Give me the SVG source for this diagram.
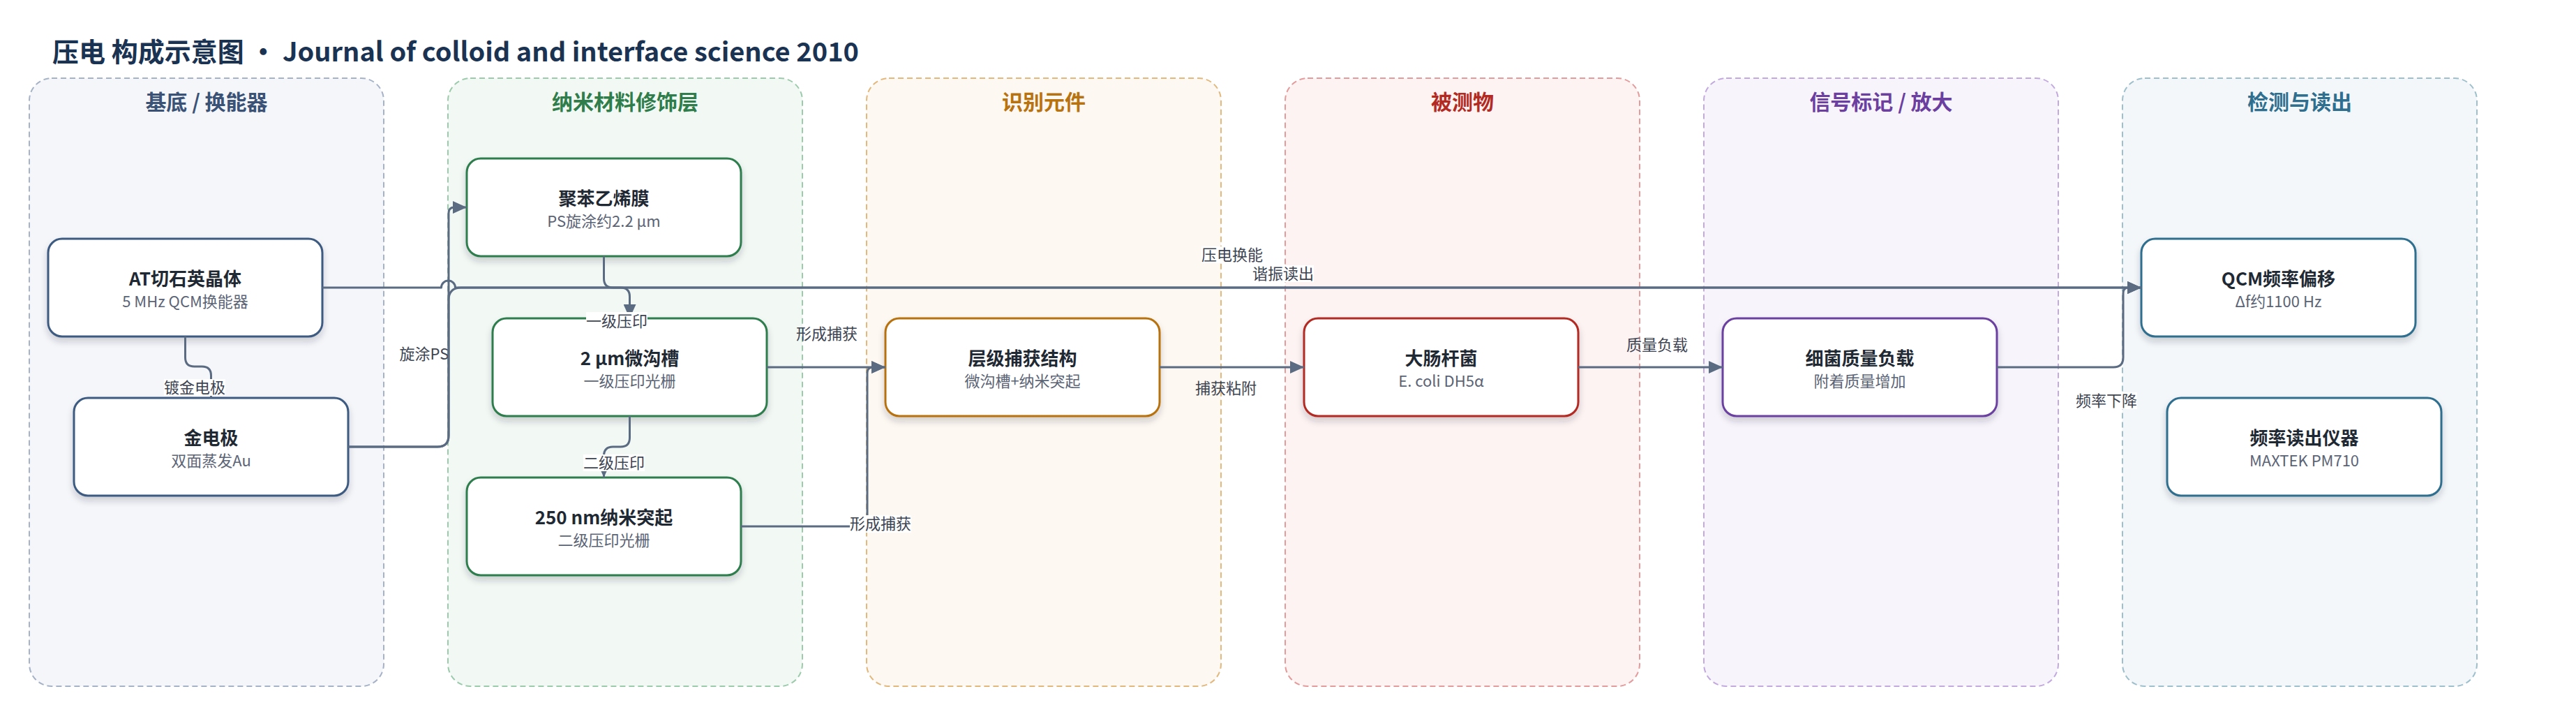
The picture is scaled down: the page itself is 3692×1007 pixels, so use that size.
<svg xmlns="http://www.w3.org/2000/svg" width="3692" height="1007" viewBox="0 0 3692 1007">
<style>
text{font-family:"Noto Sans CJK SC","Noto Sans",sans-serif}
.title{font-size:38px;font-weight:700;fill:#1b3352}
.lt{font-size:30px;font-weight:700;text-anchor:middle}
.lane{stroke-width:2;stroke-dasharray:8 5}
.node{fill:#fff;stroke-width:3;filter:url(#sh)}
.nt{font-size:26px;font-weight:700;fill:#1f2933;text-anchor:middle}
.ns{font-size:22px;fill:#5b6475;text-anchor:middle}
.e{fill:none;stroke:#5a6b82;stroke-width:3;stroke-linejoin:round}
.ea{marker-end:url(#arr)}
.lb{fill:#fff}
.el{font-size:22px;fill:#3d4452;text-anchor:middle}
</style>
<defs>
<filter id="sh" x="-10%" y="-20%" width="120%" height="150%">
<feDropShadow dx="0" dy="6" stdDeviation="5" flood-color="#1f2937" flood-opacity="0.2"/>
</filter>
<marker id="arr" viewBox="0 0 20 18" refX="20" refY="9" markerWidth="20" markerHeight="18" markerUnits="userSpaceOnUse" orient="auto">
<path d="M0 0 L20 9 L0 18 z" fill="#5a6b82"/>
</marker>
</defs>
<rect width="3692" height="1007" fill="#fff"/>
<text class="title" x="75" y="88">压电 构成示意图 · Journal of colloid and interface science 2010</text>

<g id="lanes">
<g id="lane-substrate">
<rect class="lane" x="42" y="112" width="508" height="871" rx="32" fill="#f5f6fa" stroke="#a6b3c6"/>
<text class="lt" x="296" y="157" fill="#3a5275">基底 / 换能器</text>
</g>
<g id="lane-nano">
<rect class="lane" x="642" y="112" width="508" height="871" rx="32" fill="#f2f8f4" stroke="#9ccbac"/>
<text class="lt" x="896" y="157" fill="#2e7d4a">纳米材料修饰层</text>
</g>
<g id="lane-recog">
<rect class="lane" x="1242" y="112" width="508" height="871" rx="32" fill="#fdf8f1" stroke="#e2b87c"/>
<text class="lt" x="1496" y="157" fill="#b8720f">识别元件</text>
</g>
<g id="lane-analyte">
<rect class="lane" x="1842" y="112" width="508" height="871" rx="32" fill="#fdf3f2" stroke="#e39b9b"/>
<text class="lt" x="2096" y="157" fill="#b22a22">被测物</text>
</g>
<g id="lane-signal">
<rect class="lane" x="2442" y="112" width="508" height="871" rx="32" fill="#f7f4fb" stroke="#c3aade"/>
<text class="lt" x="2696" y="157" fill="#6b3fa0">信号标记 / 放大</text>
</g>
<g id="lane-detect">
<rect class="lane" x="3042" y="112" width="508" height="871" rx="32" fill="#f3f7f9" stroke="#9ebfcc"/>
<text class="lt" x="3296" y="157" fill="#2e6e8e">检测与读出</text>
</g>
</g>

<g id="nodes">
<g id="n-at"><rect class="node" x="69" y="342" width="393" height="140" rx="20" stroke="#3d5a80"/><text class="nt" x="265.5" y="409">AT切石英晶体</text><text class="ns" x="265.5" y="440">5 MHz QCM换能器</text></g>
<g id="n-au"><rect class="node" x="106" y="570" width="393" height="140" rx="20" stroke="#3d5a80"/><text class="nt" x="302.5" y="637">金电极</text><text class="ns" x="302.5" y="668">双面蒸发Au</text></g>
<g id="n-ps"><rect class="node" x="669" y="227" width="393" height="140" rx="20" stroke="#2e7d4e"/><text class="nt" x="865.5" y="294">聚苯乙烯膜</text><text class="ns" x="865.5" y="325">PS旋涂约2.2 µm</text></g>
<g id="n-mg"><rect class="node" x="706" y="456" width="393" height="140" rx="20" stroke="#2e7d4e"/><text class="nt" x="902.5" y="523">2 µm微沟槽</text><text class="ns" x="902.5" y="554">一级压印光栅</text></g>
<g id="n-np"><rect class="node" x="669" y="684" width="393" height="140" rx="20" stroke="#2e7d4e"/><text class="nt" x="865.5" y="751">250 nm纳米突起</text><text class="ns" x="865.5" y="782">二级压印光栅</text></g>
<g id="n-hc"><rect class="node" x="1269" y="456" width="393" height="140" rx="20" stroke="#b8720f"/><text class="nt" x="1465.5" y="523">层级捕获结构</text><text class="ns" x="1465.5" y="554">微沟槽+纳米突起</text></g>
<g id="n-ec"><rect class="node" x="1869" y="456" width="393" height="140" rx="20" stroke="#b22a22"/><text class="nt" x="2065.5" y="523">大肠杆菌</text><text class="ns" x="2065.5" y="554">E. coli DH5α</text></g>
<g id="n-bm"><rect class="node" x="2469" y="456" width="393" height="140" rx="20" stroke="#6b3fa0"/><text class="nt" x="2665.5" y="523">细菌质量负载</text><text class="ns" x="2665.5" y="554">附着质量增加</text></g>
<g id="n-qcm"><rect class="node" x="3069" y="342" width="393" height="140" rx="20" stroke="#2e6e8e"/><text class="nt" x="3265.5" y="409">QCM频率偏移</text><text class="ns" x="3265.5" y="440">Δf约1100 Hz</text></g>
<g id="n-fr"><rect class="node" x="3106" y="570" width="393" height="140" rx="20" stroke="#2e6e8e"/><text class="nt" x="3302.5" y="637">频率读出仪器</text><text class="ns" x="3302.5" y="668">MAXTEK PM710</text></g>
</g>

<g id="connectors">
<path class="e ea" d="M265.5 482 V512 Q265.5 525 278.5 525 H289.5 Q302.5 525 302.5 538 V570"/>
<rect class="lb" x="235" y="543" width="88" height="24"/><text class="el" x="279" y="563">镀金电极</text>

<path class="e ea" d="M499 640 H627 Q643 640 643 624 V305 Q643 297 651 297 H669"/>
<text class="el" x="608" y="515">旋涂PS</text>

<path class="e ea" d="M462 412 H632.5 A10 10 0 0 1 652.5 412 H3069"/>
<rect class="lb" x="1722" y="353" width="88" height="24"/><text class="el" x="1766" y="373">压电换能</text>

<path class="e ea" d="M499 640 H627 Q643 640 643 624 V430 Q643 412 661 412 H3069"/>
<rect class="lb" x="1795" y="380" width="88" height="24"/><text class="el" x="1839" y="400">谐振读出</text>

<path class="e ea" d="M865.5 367 V399 Q865.5 412 878.5 412 H889.5 Q902.5 412 902.5 425 V456"/>
<rect class="lb" x="840" y="447" width="88" height="25"/><text class="el" x="884" y="468">一级压印</text>

<path class="e ea" d="M902.5 596 V627 Q902.5 640 889.5 640 H878.5 Q865.5 640 865.5 653 V684"/>
<rect class="lb" x="836" y="651" width="88" height="24"/><text class="el" x="880" y="671">二级压印</text>

<path class="e ea" d="M1099 526 H1269"/>
<text class="el" x="1185" y="486">形成捕获</text>

<path class="e ea" d="M1062 754 H1229 Q1243 754 1243 740 V534 Q1243 526 1251 526 H1269"/>
<rect class="lb" x="1218" y="738" width="88" height="25"/><text class="el" x="1262" y="758">形成捕获</text>

<path class="e ea" d="M1662 526 H1869"/>
<text class="el" x="1757" y="564">捕获粘附</text>

<path class="e ea" d="M2262 526 H2469"/>
<text class="el" x="2375" y="502">质量负载</text>

<path class="e ea" d="M2862 526 H3029 Q3043 526 3043 512 V420 Q3043 412 3051 412 H3069"/>
<rect class="lb" x="2975" y="562" width="88" height="24"/><text class="el" x="3019" y="582">频率下降</text>
</g>
</svg>
